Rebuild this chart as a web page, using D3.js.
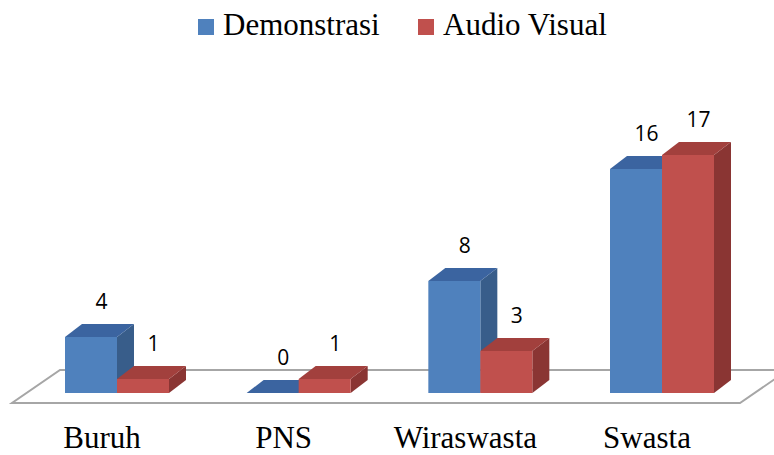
<!DOCTYPE html>
<html>
<head>
<meta charset="utf-8">
<script src="https://cdn.jsdelivr.net/npm/d3@7/dist/d3.min.js"></script>
<style>
  html, body { margin: 0; padding: 0; background: #fff; }
  svg { display: block; }
</style>
</head>
<body>
<svg id="chart" width="774" height="455"></svg>
<script>
// Occupation categories and the two teaching-method series
const categories = ["Buruh", "PNS", "Wiraswasta", "Swasta"];
const seriesNames = ["Demonstrasi", "Audio Visual"];
const demonstrasi = [4, 0, 8, 16];
const audioVisual = [1, 1, 3, 17];
const seriesValues = [demonstrasi, audioVisual];

const colors = {
  "Demonstrasi": { front: "#4F81BD", top: "#3B64A0", side: "#385D8A" },
  "Audio Visual": { front: "#C0504D", top: "#A2403D", side: "#8A3533" }
};

const svg = d3.select("#chart");

// Layout
const baseY = 393;          // bottom edge of the bar front faces
const depthX = 17, depthY = -13;  // 3D extrusion offset
const floor = { frontY: 403, backY: 370, frontL: 12, frontR: 740, skew: 48 };

const x = d3.scalePoint().domain(categories).range([117, 662]);
const inner = d3.scaleBand().domain(seriesNames).range([-52, 52]);
const y = d3.scaleLinear().domain([0, 17]).range([baseY, baseY - 17 * 14]);

// Floor plane
svg.append("path")
  .attr("d", `M${floor.frontL},${floor.frontY} L${floor.frontR},${floor.frontY} L${floor.frontR + floor.skew},${floor.backY} L${floor.frontL + floor.skew},${floor.backY} Z`)
  .attr("fill", "#fff")
  .attr("stroke", "#a6a6a6")
  .attr("stroke-width", 2);

// Flatten into bar records, drawn category by category so nearer faces overlap correctly
const bars = [];
categories.forEach((c, i) => {
  seriesNames.forEach((s, j) => {
    bars.push({ cat: c, series: s, value: seriesValues[j][i] });
  });
});

const g = svg.append("g");
bars.forEach(d => {
  const x0 = x(d.cat) + inner(d.series);
  const x1 = x0 + inner.bandwidth();
  const yt = y(d.value);
  const col = colors[d.series];
  const bar = g.append("g").attr("class", "bar");
  // side face
  bar.append("path")
    .attr("d", `M${x1},${baseY} L${x1 + depthX},${baseY + depthY} L${x1 + depthX},${yt + depthY} L${x1},${yt} Z`)
    .attr("fill", col.side);
  // top face
  bar.append("path")
    .attr("d", `M${x0},${yt} L${x0 + depthX},${yt + depthY} L${x1 + depthX},${yt + depthY} L${x1},${yt} Z`)
    .attr("fill", col.top);
  // front face
  bar.append("rect")
    .attr("x", x0).attr("y", yt)
    .attr("width", x1 - x0).attr("height", baseY - yt)
    .attr("fill", col.front);
  // value label
  g.append("text")
    .attr("x", (x0 + x1) / 2 + depthX / 2 + 2)
    .attr("y", yt + depthY - 15)
    .attr("text-anchor", "middle")
    .attr("font-family", "'Open Sans', sans-serif")
    .attr("font-size", 21)
    .attr("fill", "#000")
    .text(d.value);
});

// Category labels
svg.append("g").selectAll("text")
  .data(categories)
  .join("text")
  .attr("x", d => x(d) - 15)
  .attr("y", 448)
  .attr("text-anchor", "middle")
  .attr("font-family", "'Liberation Serif', 'Times New Roman', serif")
  .attr("font-size", 31)
  .attr("fill", "#000")
  .text(d => d);

// Legend
const legendItems = [
  { name: seriesNames[0], sx: 198 },
  { name: seriesNames[1], sx: 418 }
];
const legend = svg.append("g");
legendItems.forEach(it => {
  legend.append("rect")
    .attr("x", it.sx).attr("y", 19)
    .attr("width", 16).attr("height", 16)
    .attr("fill", colors[it.name].front);
  legend.append("text")
    .attr("x", it.sx + 25).attr("y", 35)
    .attr("font-family", "'Liberation Serif', 'Times New Roman', serif")
    .attr("font-size", 31)
    .attr("fill", "#000")
    .text(it.name);
});
</script>
</body>
</html>
